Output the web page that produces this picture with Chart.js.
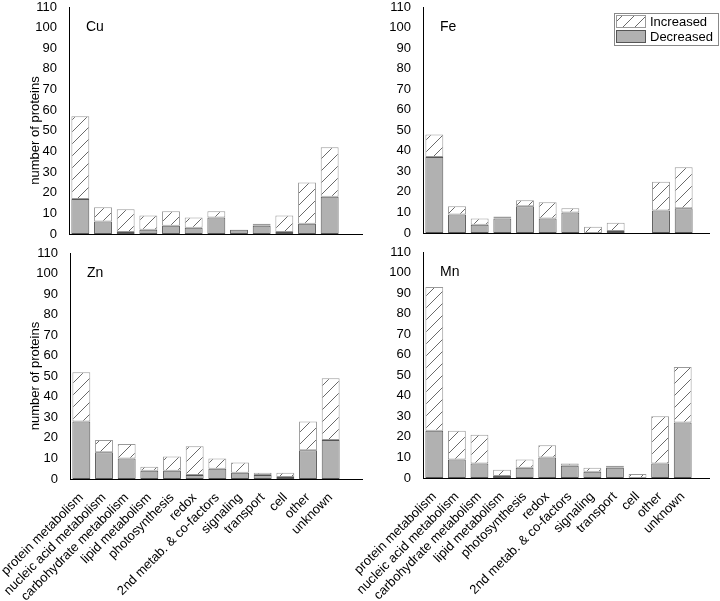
<!DOCTYPE html>
<html>
<head>
<meta charset="utf-8">
<script src="https://cdn.jsdelivr.net/npm/chart.js@4.4.1/dist/chart.umd.min.js"></script>
<style>
  html, body { margin: 0; padding: 0; background: #fff; }
  #wrap { position: relative; width: 720px; height: 601px; overflow: hidden; }
  canvas { position: absolute; }
</style>
</head>
<body>
<div id="wrap">
  <canvas id="cuChart" width="363" height="240" style="left:0;top:0"></canvas>
  <canvas id="feChart" width="370" height="240" style="left:350px;top:0"></canvas>
  <canvas id="znChart" width="363" height="361" style="left:0;top:240px"></canvas>
  <canvas id="mnChart" width="370" height="361" style="left:350px;top:240px"></canvas>
</div>
<script>
/* DATA */
const categories = [
  "protein metabolism", "nucleic acid metabolism", "carbohydrate metabolism",
  "lipid metabolism", "photosynthesis", "redox", "2nd metab. & co-factors",
  "signaling", "transport", "cell", "other", "unknown"
];

const cuDecreased = [17, 6, 1, 2, 4, 3, 8, 2, 4, 1, 5, 18];
const cuIncreased = [40, 7, 11, 7, 7, 5, 3, 0, 1, 8, 20, 24];

const feDecreased = [37, 9, 4, 7, 13, 7, 10, 0, 1, 0, 11, 12];
const feIncreased = [11, 4, 3, 1, 3, 8, 2, 3, 4, 0, 14, 20];

const znDecreased = [28, 13, 10, 4, 4, 2, 5, 3, 2, 1, 14, 19];
const znIncreased = [24, 6, 7, 2, 7, 14, 5, 5, 1, 2, 14, 30];

const mnDecreased = [23, 9, 7, 1, 5, 10, 6, 3, 5, 0, 7, 27];
const mnIncreased = [70, 14, 14, 3, 4, 6, 1, 2, 1, 2, 23, 27];

const yMin = 0;
const yMax = 110;
const yStep = 10;

/* STYLE */
Chart.defaults.font.family = "'Liberation Sans', Arial, sans-serif";
Chart.defaults.font.size = 13;
Chart.defaults.color = "#000";

const DEC_FILL = "#b1b1b1";
const DEC_EDGE = "#555";
const INC_EDGE = "#9a9a9a";

function hatch() {
  const c = document.createElement("canvas");
  c.width = 12; c.height = 12;
  const g = c.getContext("2d");
  g.fillStyle = "#fff";
  g.fillRect(0, 0, 12, 12);
  g.strokeStyle = "#6a6a6a";
  g.lineWidth = 1;
  g.beginPath();
  g.moveTo(0, 12); g.lineTo(12, 0);
  g.moveTo(-6, 6); g.lineTo(6, -6);
  g.moveTo(6, 18); g.lineTo(18, 6);
  g.stroke();
  return g.createPattern(c, "repeat");
}
const hatchFill = hatch();

/* PANEL DECORATIONS: baseline, panel name, y title, legend */
const panelText = {
  id: "panelText",
  afterDraw(chart, args, o) {
    const { ctx, chartArea: a, scales } = chart;
    ctx.save();

    // x baseline, runs past the last bar like the original
    ctx.strokeStyle = "#000";
    ctx.lineWidth = 1;
    ctx.beginPath();
    ctx.moveTo(a.left, Math.round(a.bottom) + 0.5);
    ctx.lineTo(o.lineTo, Math.round(a.bottom) + 0.5);
    ctx.stroke();

    // panel name
    ctx.fillStyle = "#000";
    ctx.font = "14px 'Liberation Sans', Arial, sans-serif";
    ctx.textAlign = "left";
    ctx.textBaseline = "middle";
    ctx.fillText(o.name, a.left + 17, scales.y.getPixelForValue(100));

    // y title
    if (o.yTitle) {
      ctx.save();
      ctx.translate(35, (a.top + a.bottom) / 2 + 10);
      ctx.rotate(-Math.PI / 2);
      ctx.textAlign = "center";
      ctx.font = "13px 'Liberation Sans', Arial, sans-serif";
      ctx.fillText(o.yTitle, 0, 0);
      ctx.restore();
    }

    // legend box
    if (o.legend) {
      const x = chart.width - 106, y = 13, w = 104, h = 32;
      ctx.fillStyle = "#fff";
      ctx.fillRect(x, y, w, h);
      ctx.strokeStyle = "#888";
      ctx.strokeRect(x + 0.5, y + 0.5, w, h);
      const ds = chart.data.datasets.slice().reverse();
      ds.forEach((d, i) => {
        const sy = y + 2 + i * 15;
        ctx.fillStyle = d.backgroundColor;
        ctx.fillRect(x + 2, sy, 30, 13);
        ctx.strokeStyle = d.borderColor;
        ctx.strokeRect(x + 2.5, sy + 0.5, 29, 12);
        ctx.fillStyle = "#000";
        ctx.font = "13px 'Liberation Sans', Arial, sans-serif";
        ctx.textAlign = "left";
        ctx.textBaseline = "middle";
        ctx.fillText(d.label, x + 36, sy + 7);
      });
    }
    ctx.restore();
  }
};

/* BUILD */
function panel(id, name, dec, inc, o) {
  return new Chart(document.getElementById(id), {
    type: "bar",
    data: {
      labels: categories,
      datasets: [
        { label: "Decreased", data: dec, backgroundColor: DEC_FILL,
          borderColor: DEC_EDGE, borderWidth: 1, borderSkipped: false },
        { label: "Increased", data: inc, backgroundColor: hatchFill,
          borderColor: INC_EDGE, borderWidth: 1, borderSkipped: false }
      ]
    },
    options: {
      responsive: false,
      animation: false,
      events: [],
      layout: { padding: { top: o.top, right: o.right, left: 0, bottom: 0 } },
      datasets: { bar: { categoryPercentage: 0.79, barPercentage: 1 } },
      plugins: {
        legend: { display: false },
        tooltip: { enabled: false },
        panelText: { name, yTitle: o.yTitle, legend: o.legend, lineTo: o.lineTo }
      },
      scales: {
        x: {
          stacked: true,
          grid: { display: false },
          border: { display: false },
          ticks: {
            display: o.labels, autoSkip: false,
            minRotation: 45, maxRotation: 45, padding: 3
          },
          afterFit: s => { s.height = o.xh; s.paddingLeft = 0; s.paddingRight = 0; }
        },
        y: {
          stacked: true, min: yMin, max: yMax,
          grid: { display: false },
          border: { display: true, color: "#000", width: 1 },
          ticks: { stepSize: yStep, padding: 4 },
          afterFit: s => { s.width = o.yw; s.paddingTop = 0; s.paddingBottom = 0; }
        }
      }
    },
    plugins: [panelText]
  });
}

panel("cuChart", "Cu", cuDecreased, cuIncreased,
  { top: 7, right: 22, xh: 6, yw: 69, labels: false, yTitle: "number of proteins", lineTo: 363 });
panel("feChart", "Fe", feDecreased, feIncreased,
  { top: 7, right: 25, xh: 7, yw: 73, labels: false, legend: true, lineTo: 360 });
panel("znChart", "Zn", znDecreased, znIncreased,
  { top: 13, right: 21, xh: 122, yw: 70, labels: true, yTitle: "number of proteins", lineTo: 363 });
panel("mnChart", "Mn", mnDecreased, mnIncreased,
  { top: 12, right: 26, xh: 123, yw: 73, labels: true, lineTo: 360 });
</script>
</body>
</html>
